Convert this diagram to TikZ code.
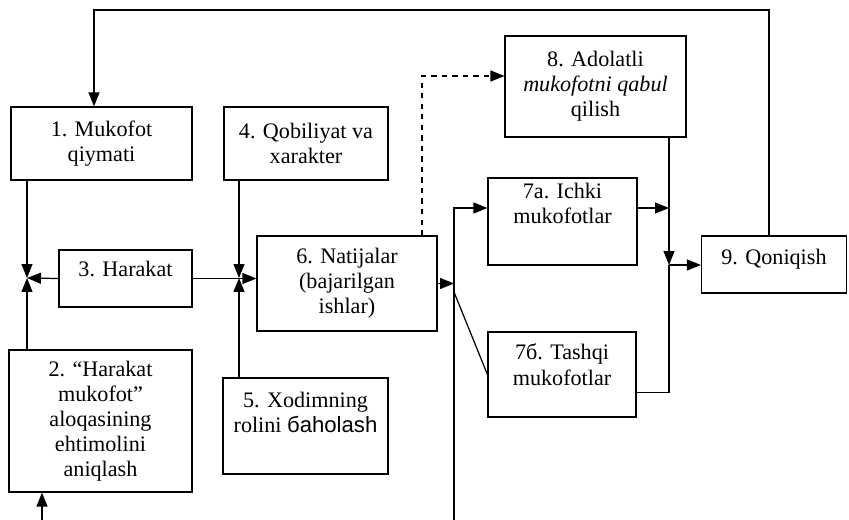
\documentclass[tikz,border=0pt]{standalone}
\usepackage{fontspec}
\setmainfont{Liberation Serif}
\newfontfamily\sansf{Liberation Sans}
\usetikzlibrary{arrows.meta}
\usetikzlibrary{calc}

\tikzset{
  blk/.style={draw, line width=0.7pt, align=center, inner sep=0pt,
    font=\fontsize{12.6}{14.3}\selectfont},
  txt/.style={anchor=north, align=center, inner sep=0pt,
    font=\fontsize{12.6}{14.3}\selectfont},
  con/.style={line width=0.7pt},
  >={Triangle[length=2.8mm,width=2.2mm]},
}

\begin{document}
\begin{tikzpicture}[x=0.02cm, y=-0.02cm]
                \useasboundingbox (0,0) rectangle (849,520);

                % boxes
                \node[blk, minimum width=3.62cm, minimum height=1.46cm] (b1) at (101.5,143.5) {1. Mukofot\\ qiymati};
                \node[blk, minimum width=3.66cm, minimum height=2.84cm] (b2) at (100.5,421) {2. “Harakat\\ mukofot”\\ aloqasining\\ ehtimolini\\ aniqlash};
                \node[blk, minimum width=2.66cm, minimum height=1.14cm,
                      label={[txt, yshift=-6.5pt]north:3. Harakat}] (b3) at (125.5,278.5) {};
                \node[blk, minimum width=3.28cm, minimum height=1.46cm] (b4) at (306,143.5) {4. Qobiliyat va\\ xarakter};
                \node[blk, minimum width=3.3cm, minimum height=1.92cm,
                      label={[txt, yshift=-8pt]north:{5. Xodimning\\ rolini {\sansf бaholash}}}] (b5) at (305.5,426) {};
                \node[blk, minimum width=3.6cm, minimum height=1.9cm] (b6) at (347,283.5) {6. Natijalar\\ (bajarilgan\\ ishlar)};
                \node[blk, minimum width=2.98cm, minimum height=1.74cm,
                      label={[txt, yshift=-3pt]north:{7a. Ichki\\ mukofotlar}}] (b7a) at (562.5,221.5) {};
                \node[blk, minimum width=2.96cm, minimum height=1.7cm,
                      label={[txt, yshift=-7pt]north:{7б. Tashqi\\ mukofotlar}}] (b7b) at (562,374.5) {};
                \node[blk, minimum width=3.62cm, minimum height=2.02cm] (b8) at (595.5,86.5) {8. Adolatli\\ \textit{mukofotni qabul}\\ qilish};
                \node[blk, minimum width=2.9cm, minimum height=1.14cm,
                      label={[txt, yshift=-7.5pt]north:9. Qoniqish}] (b9) at (774,264.5) {};

                % junctions and bends
                \coordinate (j1) at (27,278);
                \coordinate (j2) at (239,278);
                \coordinate (bt) at (454,208);
                \coordinate (bb) at (454,520);
                \coordinate (bd) at (454,292);
                \coordinate (k) at (669,265);
                \coordinate (fb) at (769,10);
                \coordinate (fa) at (94,10);
                \coordinate (d) at (422,76);
                \coordinate (in2) at (42,520);

                % connectors
                \draw[con,->] (b1.south -| j1) -- (j1);
                \draw[con,->] (b2.north -| j1) -- (j1);
                \draw[con,->] (b3.west) -- (j1);
                \draw[con,->] (b4.south -| j2) -- (j2);
                \draw[con,->] (b5.north -| j2) -- (j2);
                \draw[con,->] (b3.east) -- (b3.east -| b6.west);
                \draw[con,->] (in2) -- (b2.south -| in2);

                \draw[con,->] (b6.east) -- (b6.east -| bt);
                \draw[con,->] (bb) -- (bt) -- (b7a.west |- bt);
                \draw[con] (bd) -- (b7b.west);
                \draw[con,->,dashed] (b6.north -| d) -- (d) -- (d -| b8.west);

                \draw[con,->] (b7a.east |- bt) -- (bt -| k);
                \draw[con,->] (b8.south -| k) -- (k);
                \draw[con] ($(b7b.east)+(0,18)$) -- ($(b7b.east -| k)+(0,18)$) -- (k);
                \draw[con,->] (k) -- (k -| b9.west);
                \draw[con,->] (b9.north -| fb) -- (fb) -- (fa) -- (b1.north -| fa);
            \end{tikzpicture}
\end{document}
